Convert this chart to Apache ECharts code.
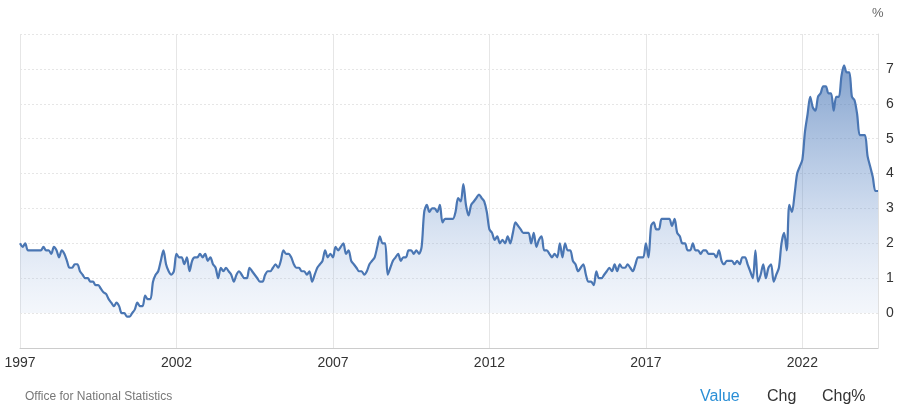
<!DOCTYPE html>
<html>
<head>
<meta charset="utf-8">
<script src="https://cdn.jsdelivr.net/npm/echarts@6/dist/echarts.min.js"></script>
<style>html,body{margin:0;padding:0;background:#fff}#chart{width:900px;height:416px}</style>
</head>
<body>
<div id="chart"></div>
<script>
var startYear = 1997;
// monthly values, Jan 1997 - Jun 2024
var values = [
  2.0,1.9,2.0,1.8,1.8,1.8,1.8,1.8,1.8,1.9,1.8,1.8,
  1.7,1.9,1.8,1.6,1.8,1.7,1.5,1.3,1.3,1.4,1.4,1.2,
  1.1,1.0,1.0,0.9,0.9,0.8,0.8,0.7,0.6,0.55,0.4,0.3,
  0.2,0.3,0.2,0.0,0.0,-0.1,-0.1,0.0,0.1,0.3,0.2,0.2,
  0.5,0.4,0.4,0.9,1.1,1.2,1.5,1.8,1.4,1.2,1.1,1.2,
  1.7,1.6,1.6,1.4,1.6,1.2,1.5,1.6,1.6,1.7,1.6,1.7,
  1.5,1.6,1.4,1.3,1.0,1.3,1.2,1.3,1.2,1.1,0.9,1.1,
  1.2,1.1,1.0,1.0,1.3,1.2,1.1,1.0,0.9,0.9,1.1,1.2,
  1.2,1.3,1.4,1.3,1.5,1.8,1.7,1.7,1.6,1.4,1.3,1.3,
  1.2,1.2,1.1,1.2,0.9,1.1,1.3,1.4,1.5,1.8,1.6,1.7,
  1.6,1.9,1.8,1.9,2.0,1.7,1.8,1.5,1.4,1.3,1.2,1.2,
  1.1,1.2,1.4,1.5,1.6,1.9,2.2,2.0,2.0,1.1,1.3,1.5,
  1.6,1.7,1.5,1.6,1.6,1.8,1.8,1.7,1.8,1.7,1.9,2.9,
  3.1,2.9,3.0,3.0,2.9,3.1,2.6,2.7,2.7,2.7,2.7,2.9,
  3.3,3.2,3.7,3.1,2.8,3.1,3.2,3.3,3.4,3.3,3.2,2.9,
  2.4,2.3,2.1,2.2,2.0,2.1,2.0,2.2,2.0,2.3,2.6,2.5,
  2.4,2.3,2.3,2.3,2.0,2.3,1.9,2.1,2.2,1.8,1.8,1.7,
  1.6,1.7,1.6,2.0,1.6,2.0,1.8,1.8,1.5,1.4,1.2,1.3,
  1.4,1.1,0.9,0.9,0.8,1.2,1.0,1.0,1.1,1.2,1.3,1.2,
  1.4,1.2,1.4,1.3,1.3,1.4,1.3,1.2,1.4,1.6,1.6,1.6,
  2.0,1.6,2.5,2.6,2.4,2.4,2.7,2.7,2.7,2.7,2.5,2.7,
  2.3,2.2,2.0,2.0,1.8,1.8,2.0,1.8,1.8,1.7,1.8,1.8,
  1.7,1.7,1.7,1.6,1.8,1.5,1.4,1.5,1.5,1.5,1.4,1.5,
  1.4,1.6,1.6,1.4,1.2,1.0,1.8,0.9,1.1,1.4,1.0,1.3,
  1.4,0.9,1.1,1.3,2.0,2.3,1.8,3.1,2.9,3.4,4.0,4.2,
  4.4,5.2,5.7,6.2,5.9,5.8,6.2,6.3,6.5,6.5,6.3,6.3,
  5.8,6.2,6.2,6.8,7.1,6.9,6.9,6.2,6.1,5.7,5.1,5.1,
  5.1,4.5,4.2,3.9,3.5,3.5
];
var yTicks = [0, 1, 2, 3, 4, 5, 6, 7];

var months = [];
for (var i = 0; i < values.length; i++) {
  var y = startYear + Math.floor(i / 12), m = i % 12 + 1;
  months.push(y + '-' + (m < 10 ? '0' + m : m));
}
function isTick(idx) {
  var y = startYear + Math.floor(idx / 12);
  return idx % 12 === 0 && (y - startYear) % 5 === 0;
}

var myChart = echarts.init(document.getElementById('chart'));
var option = {
  backgroundColor: '#fff',
  animation: false,
  grid: { left: 20, right: 22, top: 34, bottom: 68 },
  xAxis: {
    type: 'category',
    data: months,
    boundaryGap: false,
    axisLine: { onZero: false, lineStyle: { color: '#cccccc' } },
    axisTick: { show: false },
    axisLabel: {
      interval: function (idx) { return isTick(idx); },
      formatter: function (v) { return v.slice(0, 4); },
      color: '#333', fontSize: 14, fontFamily: 'Arial, Liberation Sans', margin: 8
    },
    splitLine: {
      show: true,
      interval: function (idx) { return isTick(idx); },
      lineStyle: { color: '#e6e6e6' }
    }
  },
  yAxis: {
    type: 'value',
    position: 'right',
    min: -1, max: 8, interval: 1,
    name: '%',
    nameLocation: 'end',
    nameGap: 14,
    nameTextStyle: { color: '#666', fontSize: 13, align: 'left', padding: [0, 0, 0, -6] },
    axisLine: { show: true, lineStyle: { color: '#e0e0e0' } },
    axisTick: { show: false },
    axisLabel: {
      color: '#333', fontSize: 14, fontFamily: 'Arial, Liberation Sans', margin: 8,
      formatter: function (v) { return yTicks.indexOf(v) >= 0 ? String(v) : ''; }
    },
    splitLine: { lineStyle: { color: '#e6e6e6', type: [2, 2] } }
  },
  series: [{
    type: 'line',
    data: values,
    symbol: 'none',
    smooth: 0.3,
    lineStyle: { color: '#4a76b3', width: 2.2 },
    areaStyle: {
      color: new echarts.graphic.LinearGradient(0, 0, 0, 1, [
        { offset: 0, color: 'rgba(70,116,180,0.95)' },
        { offset: 0.5, color: 'rgba(105,145,202,0.55)' },
        { offset: 1, color: 'rgba(180,200,232,0.2)' }
      ])
    }
  }],
  graphic: [
    { type: 'text', left: 25, top: 391, style: { text: 'Office for National Statistics', fill: '#777', fontSize: 12, fontFamily: 'Arial, Liberation Sans' } },
    { type: 'text', left: 700, top: 389, style: { text: 'Value', fill: '#2b8fd6', fontSize: 16, fontFamily: 'Arial, Liberation Sans' } },
    { type: 'text', left: 767, top: 389, style: { text: 'Chg', fill: '#333', fontSize: 16, fontFamily: 'Arial, Liberation Sans' } },
    { type: 'text', left: 822, top: 389, style: { text: 'Chg%', fill: '#333', fontSize: 16, fontFamily: 'Arial, Liberation Sans' } }
  ]
};
myChart.setOption(option);
</script>
</body>
</html>
